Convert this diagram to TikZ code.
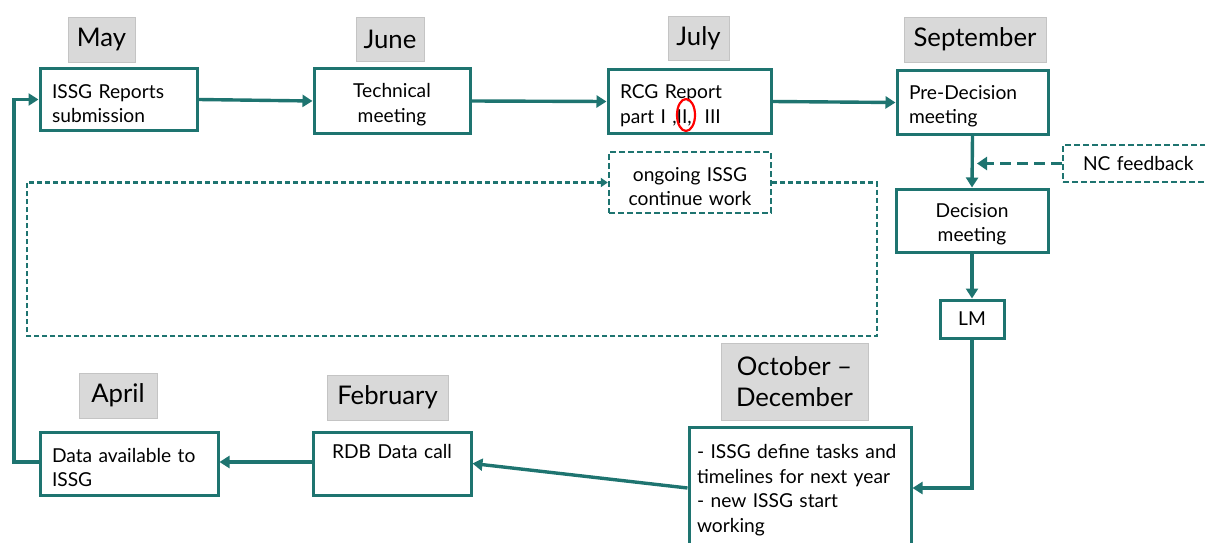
\documentclass[tikz,border=0pt]{standalone}
\usepackage{fontspec}
\setmainfont{Lato}
\usetikzlibrary{arrows.meta}
\definecolor{tealc}{HTML}{1E7470}
\definecolor{labgray}{HTML}{D9D9D9}
\definecolor{labborder}{HTML}{C4C4C4}
\tikzset{
  month/.style={fill=labgray, draw=labborder, line width=0.8pt, inner sep=0pt,
    font=\fontsize{25.7}{31}\selectfont, align=center},
  stepbox/.style={draw=tealc, line width=3pt, fill=white, inner xsep=12pt, inner ysep=0pt,
    font=\fontsize{19.2}{24.5}\selectfont},
  twoline/.style={text height=22pt},
  dashbox/.style={stepbox, dash pattern=on 6pt off 3pt, line width=2.4pt},
  flow/.style={draw=tealc, line width=3.4pt, -{Triangle[width=12pt,length=10pt]}},
  dflow/.style={draw=tealc, line width=2.2pt, dash pattern=on 5pt off 3pt, -{Triangle[width=9pt,length=7pt]}},
  nflow/.style={draw=tealc, line width=3.4pt, dash pattern=on 11pt off 6pt, -{Triangle[width=13pt,length=10pt]}},
}
\begin{document}
\begin{tikzpicture}[x=1pt,y=-1pt]
\useasboundingbox (0,0) rectangle (1205,543);
% month labels
\node[month, minimum width=67pt, minimum height=45pt] (may) at (101.5,39.5) {May};
\node[month, minimum width=68pt, minimum height=44pt] (jun) at (390,39) {June};
\node[month, minimum width=61pt, minimum height=44pt] (jul) at (698.5,38.5) {July};
\node[month, minimum width=142pt, minimum height=45pt] (sep) at (975,39.5) {September};
\node[month, minimum width=147pt, minimum height=77pt] (oct) at (794.5,381.5) {October –\\December};
\node[month, minimum width=78pt, minimum height=45pt] (apr) at (118,395.5) {April};
\node[month, minimum width=121pt, minimum height=45pt] (feb) at (387.5,397.5) {February};
% process boxes
\node[stepbox, twoline, minimum width=157pt, minimum height=61pt, text width=133pt, align=left] (issg) at (118.5,99.5) {ISSG Reports\\submission};
\node[stepbox, twoline, minimum width=156pt, minimum height=64pt, text width=132pt, align=center] (tech) at (392,101) {Technical\\meeting};
\node[stepbox, twoline, minimum width=163pt, minimum height=63pt, text width=139pt, align=left] (rcg) at (689.5,101.5) {RCG Report\\part I ,II,\ \ III};
\node[stepbox, twoline, minimum width=151pt, minimum height=63pt, text width=127pt, align=left] (pre) at (972.5,102.5) {Pre-Decision\\meeting};
\node[dashbox, twoline, minimum width=162pt, minimum height=61pt, text width=138pt, align=center] (ong) at (690,182.5) {ongoing ISSG\\continue work};
\node[dashbox, minimum width=170pt, minimum height=37pt, text width=146pt, align=left] (nc) at (1148,163.5) {\hspace*{8pt}NC feedback};
\node[stepbox, twoline, minimum width=152pt, minimum height=63pt, text width=128pt, align=center] (dec) at (972,220.5) {Decision\\meeting};
\node[stepbox, minimum width=64pt, minimum height=38pt, inner xsep=4pt, align=center] (lm) at (972,319) {LM};
\node[stepbox, text height=31pt, minimum width=222pt, minimum height=128pt, inner xsep=8pt, text width=206pt, align=left] (def) at (800,496) {- ISSG define tasks and\\timelines for next year\\- new ISSG start\\working\\\strut};
\node[stepbox, twoline, minimum width=178pt, minimum height=63pt, text width=154pt, align=left] (data) at (129,463.5) {Data available to\\ISSG};
\node[stepbox, twoline, minimum width=158pt, minimum height=63pt, text width=134pt, align=center] (rdb) at (392,463.5) {RDB Data call\\\strut};
% highlight
\draw[red, line width=2.2pt] (686,115) ellipse (9pt and 16pt);
% connectors
\draw[flow] (issg.east) -- (tech.west);
\draw[flow] (tech.east) -- (rcg.west);
\draw[flow] (rcg.east) -- (pre.west);
\draw[flow] (pre.south) -- (dec.north);
\draw[flow] (dec.south) -- (lm.north);
\draw[flow] (lm.south) |- ([yshift=8pt]def.east);
\draw[flow] ([yshift=8pt]def.west) -- (rdb.east);
\draw[flow] ([yshift=1.5pt]rdb.west) -- ([yshift=1.5pt]data.east);
\coordinate (lp) at (14,462);
\draw[flow] ([yshift=1.5pt]data.west) -- (lp) |- (issg.west);
\coordinate (nce) at (977,163.5);
\draw[nflow] (nc.west) -- (nce);
\coordinate (d1) at (877,182.5);
\coordinate (d2) at (877,336);
\coordinate (d3) at (27,336);
\coordinate (d4) at (27,182.5);
\draw[dflow] (ong.east) -- (d1) -- (d2) -- (d3) -- (d4) -- (ong.west);
\end{tikzpicture}
\end{document}
